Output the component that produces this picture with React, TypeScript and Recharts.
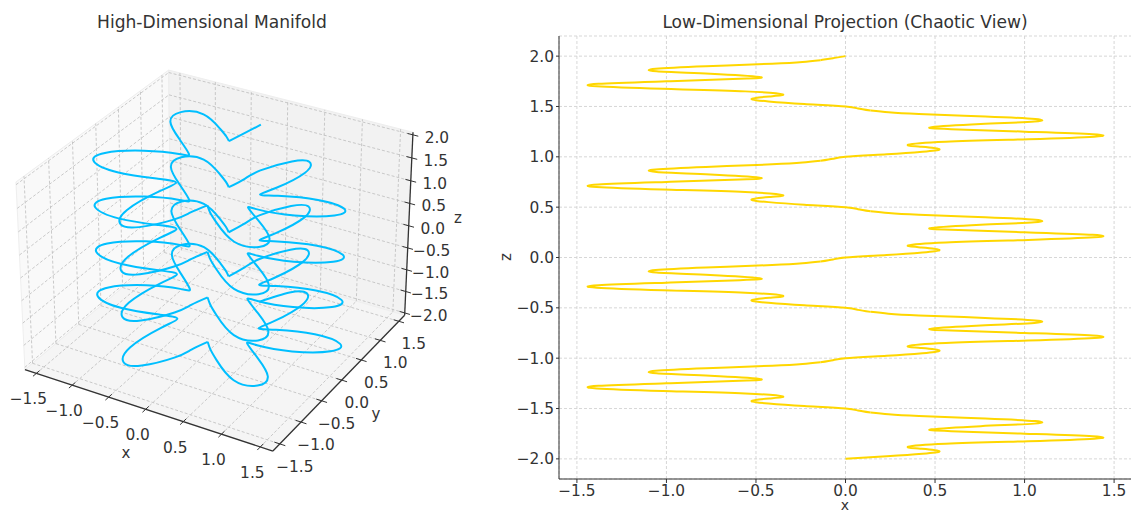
import { LineChart, Line, XAxis, YAxis, CartesianGrid, ReferenceLine, ReferenceArea, ReferenceDot } from "recharts"

const FONT = "'DejaVu Sans', sans-serif"
const INK = "#333333"
const TICK_FONT = 15.4

// curve values: z falls from 2 to -2
const curveX = [
  0, -0.07, -0.14, -0.24, -0.41, -0.78, -1.06, -1.055, -0.755, -0.48, -0.59, -1.0, -1.38, -1.39, -1.02, -0.56, -0.35, -0.425, -0.525, -0.43, -0.23,
  0, 0.07, 0.14, 0.24, 0.41, 0.78, 1.06, 1.055, 0.755, 0.48, 0.59, 1.0, 1.38, 1.39, 1.02, 0.56, 0.35, 0.425, 0.525, 0.43, 0.23,
  0, -0.07, -0.14, -0.24, -0.41, -0.78, -1.06, -1.055, -0.755, -0.48, -0.59, -1.0, -1.38, -1.39, -1.02, -0.56, -0.35, -0.425, -0.525, -0.43, -0.23,
  0, 0.07, 0.14, 0.24, 0.41, 0.78, 1.06, 1.055, 0.755, 0.48, 0.59, 1.0, 1.38, 1.39, 1.02, 0.56, 0.35, 0.425, 0.525, 0.43, 0.23,
  0, -0.07, -0.14, -0.24, -0.41, -0.78, -1.06, -1.055, -0.755, -0.48, -0.59, -1.0, -1.38, -1.39, -1.02, -0.56, -0.35, -0.425, -0.525, -0.43, -0.23,
  0, 0.07, 0.14, 0.24, 0.41, 0.78, 1.06, 1.055, 0.755, 0.48, 0.59, 1.0, 1.38, 1.39, 1.02, 0.56, 0.35, 0.425, 0.525, 0.43, 0.23,
  0, -0.07, -0.14, -0.24, -0.41, -0.78, -1.06, -1.055, -0.755, -0.48, -0.59, -1.0, -1.38, -1.39, -1.02, -0.56, -0.35, -0.425, -0.525, -0.43, -0.23,
  0, 0.07, 0.14, 0.24, 0.41, 0.78, 1.06, 1.055, 0.755, 0.48, 0.59, 1.0, 1.38, 1.39, 1.02, 0.56, 0.35, 0.425, 0.525, 0.43, 0.23,
  0,
]

const curveY = [
  1, 0.745, 0.49, 0.6, 0.75, 1.0, 0.94, 0.69, 0.39, 0.15, 0.11, 0, -0.25, -0.47, -0.53, -0.41, -0.36, -0.62, -1.14, -1.43, -1.36,
  -1, -0.745, -0.49, -0.6, -0.75, -1.0, -0.94, -0.69, -0.39, -0.15, -0.11, 0, 0.25, 0.47, 0.53, 0.41, 0.36, 0.62, 1.14, 1.43, 1.36,
  1, 0.745, 0.49, 0.6, 0.75, 1.0, 0.94, 0.69, 0.39, 0.15, 0.11, 0, -0.25, -0.47, -0.53, -0.41, -0.36, -0.62, -1.14, -1.43, -1.36,
  -1, -0.745, -0.49, -0.6, -0.75, -1.0, -0.94, -0.69, -0.39, -0.15, -0.11, 0, 0.25, 0.47, 0.53, 0.41, 0.36, 0.62, 1.14, 1.43, 1.36,
  1, 0.745, 0.49, 0.6, 0.75, 1.0, 0.94, 0.69, 0.39, 0.15, 0.11, 0, -0.25, -0.47, -0.53, -0.41, -0.36, -0.62, -1.14, -1.43, -1.36,
  -1, -0.745, -0.49, -0.6, -0.75, -1.0, -0.94, -0.69, -0.39, -0.15, -0.11, 0, 0.25, 0.47, 0.53, 0.41, 0.36, 0.62, 1.14, 1.43, 1.36,
  1, 0.745, 0.49, 0.6, 0.75, 1.0, 0.94, 0.69, 0.39, 0.15, 0.11, 0, -0.25, -0.47, -0.53, -0.41, -0.36, -0.62, -1.14, -1.43, -1.36,
  -1, -0.745, -0.49, -0.6, -0.75, -1.0, -0.94, -0.69, -0.39, -0.15, -0.11, 0, 0.25, 0.47, 0.53, 0.41, 0.36, 0.62, 1.14, 1.43, 1.36,
  1,
]

const curveZ = [
  2, 1.98, 1.96, 1.9425, 1.925, 1.9, 1.875, 1.85, 1.825, 1.793, 1.775, 1.75, 1.725, 1.7, 1.675, 1.65, 1.62, 1.6, 1.575, 1.55, 1.525,
  1.5, 1.48, 1.46, 1.4425, 1.425, 1.4, 1.375, 1.35, 1.325, 1.293, 1.275, 1.25, 1.225, 1.2, 1.175, 1.15, 1.12, 1.1, 1.075, 1.05, 1.025,
  1, 0.98, 0.96, 0.9425, 0.925, 0.9, 0.875, 0.85, 0.825, 0.793, 0.775, 0.75, 0.725, 0.7, 0.675, 0.65, 0.62, 0.6, 0.575, 0.55, 0.525,
  0.5, 0.48, 0.46, 0.4425, 0.425, 0.4, 0.375, 0.35, 0.325, 0.293, 0.275, 0.25, 0.225, 0.2, 0.175, 0.15, 0.12, 0.1, 0.075, 0.05, 0.025,
  0, -0.02, -0.04, -0.0575, -0.075, -0.1, -0.125, -0.15, -0.175, -0.207, -0.225, -0.25, -0.275, -0.3, -0.325, -0.35, -0.38, -0.4, -0.425, -0.45, -0.475,
  -0.5, -0.52, -0.54, -0.5575, -0.575, -0.6, -0.625, -0.65, -0.675, -0.707, -0.725, -0.75, -0.775, -0.8, -0.825, -0.85, -0.88, -0.9, -0.925, -0.95, -0.975,
  -1, -1.02, -1.04, -1.0575, -1.075, -1.1, -1.125, -1.15, -1.175, -1.207, -1.225, -1.25, -1.275, -1.3, -1.325, -1.35, -1.38, -1.4, -1.425, -1.45, -1.475,
  -1.5, -1.52, -1.54, -1.5575, -1.575, -1.6, -1.625, -1.65, -1.675, -1.707, -1.725, -1.75, -1.775, -1.8, -1.825, -1.85, -1.88, -1.9, -1.925, -1.95, -1.975,
  -2,
]

// the curve has a real corner at these samples, the spline must not round them
const cornerIndex = [2, 23, 44, 65, 86, 107, 128, 149]

const xyTicks = [-1.5, -1, -0.5, 0, 0.5, 1, 1.5]
const zTicks = [-2, -1.5, -1, -0.5, 0, 0.5, 1, 1.5, 2]

// limits of the 3d box
const XY_LIM = 1.66
const Z_LIM = 2.055

const fmt = (v: number) => v.toFixed(1).replace("-", "\u2212")

// camera at elev 30, azim -60, distance 10
function project(x: number, y: number, z: number) {
  const px = 0.3586 * x
  const py = 0.3586 * y
  const pz = 0.2172 * z
  const u = 0.866 * px + 0.5 * py
  const v = -0.25 * px + 0.433 * py + 0.866 * pz
  const w = 0.433 * px - 0.75 * py + 0.5 * pz
  const f = 10 / (10 - w)
  return { h: u * f, v: v * f }
}

// view plane extent of the left chart
const LEFT_W = 480
const H_MIN = -218.3 / 238.6
const H_MAX = (LEFT_W - 218.3) / 238.6
const V_MAX = 251.4 / 239.6
const V_MIN = (251.4 - 513) / 239.6

const splitAtCorners = <T,>(rows: T[]) => {
  const cuts = [0, ...cornerIndex, rows.length - 1]
  return cuts.slice(1).map((end, i) => rows.slice(cuts[i], end + 1))
}

const curve3d = splitAtCorners(curveX.map((x, i) => project(x, curveY[i], curveZ[i])))
const curve2d = splitAtCorners(curveX.map((x, i) => ({ x, z: curveZ[i] })))

const L = XY_LIM
const Z = Z_LIM
const panes = [
  { fill: "#f9f9f9", pts: [[-L, -L, -Z], [-L, L, -Z], [-L, L, Z], [-L, -L, Z]] },
  { fill: "#f2f2f2", pts: [[-L, L, -Z], [L, L, -Z], [L, L, Z], [-L, L, Z]] },
  { fill: "#f5f5f5", pts: [[-L, -L, -Z], [L, -L, -Z], [L, L, -Z], [-L, L, -Z]] },
]

type P3 = number[]
const gridSegs: P3[][] = [
  ...xyTicks.flatMap((t) => [
    [[t, L, -Z], [t, L, Z]],
    [[t, -L, -Z], [t, L, -Z]],
    [[-L, t, -Z], [-L, t, Z]],
    [[-L, t, -Z], [L, t, -Z]],
  ]),
  ...zTicks.flatMap((t) => [
    [[-L, L, t], [L, L, t]],
    [[-L, -L, t], [-L, L, t]],
  ]),
]

const axisSegs: P3[][] = [
  [[-L, -L, -Z], [L, -L, -Z]],
  [[L, -L, -Z], [L, L, -Z]],
  [[L, L, -Z], [L, L, Z]],
]

const tickSegs: P3[][] = [
  ...xyTicks.map((t) => [[t, -L + 0.07, -Z], [t, -L - 0.07, -Z]]),
  ...xyTicks.map((t) => [[L + 0.07, t, -Z], [L - 0.07, t, -Z]]),
  ...zTicks.map((t) => [[L - 0.07, L, t], [L + 0.07, L, t]]),
]

const tickLabels = [
  ...xyTicks.map((t) => ({ at: project(t, -L, -Z), dx: -8, dy: 26, text: fmt(t) })),
  ...xyTicks.map((t) => ({ at: project(L, t, -Z), dx: 15, dy: 23, text: fmt(t) })),
  ...zTicks.map((t) => ({ at: project(L, L, t), dx: 24, dy: 3, text: fmt(t) })),
]

const seg = (s: P3[]) => {
  const a = project(s[0][0], s[0][1], s[0][2])
  const b = project(s[1][0], s[1][1], s[1][2])
  return [{ x: a.h, y: a.v }, { x: b.h, y: b.v }] as any
}

function paneShape(pts: number[][], fill: string) {
  return (p: any) => {
    const sx = (h: number) => p.x + ((h - H_MIN) / (H_MAX - H_MIN)) * p.width
    const sy = (v: number) => p.y + ((V_MAX - v) / (V_MAX - V_MIN)) * p.height
    const d = pts.map((q) => {
      const o = project(q[0], q[1], q[2])
      return `${sx(o.h)},${sy(o.v)}`
    })
    return <polygon points={d.join(" ")} fill={fill} stroke="#eeeeee" strokeWidth={1} />
  }
}

const titleStyle = (left: number): React.CSSProperties => ({
  position: "absolute",
  left,
  top: 12,
  width: 500,
  marginLeft: -250,
  textAlign: "center",
  fontFamily: FONT,
  fontSize: 17.1,
  color: INK,
})

const axisText = (left: number, top: number, text: string, rotate = 0, size = 15) => (
  <div
    style={{
      position: "absolute",
      left,
      top,
      fontFamily: FONT,
      fontSize: size,
      color: INK,
      lineHeight: "11px",
      transform: `translate(-50%, -50%) rotate(${rotate}deg)`,
    }}
  >
    {text}
  </div>
)

export default function App() {
  return (
    <div style={{ position: "absolute", left: 0, top: 0, width: 1131, height: 513, overflow: "hidden", background: "#fff" }}>
      <LineChart
        width={LEFT_W}
        height={513}
        margin={{ top: 0, right: 0, bottom: 0, left: 0 }}
        style={{ position: "absolute", left: 0, top: 0 }}
      >
        <XAxis hide type="number" dataKey="h" domain={[H_MIN, H_MAX]} allowDataOverflow />
        <YAxis hide type="number" domain={[V_MIN, V_MAX]} allowDataOverflow />
        {panes.map((p, i) => (
          <ReferenceArea key={i} x1={H_MIN} x2={H_MAX} y1={V_MIN} y2={V_MAX} shape={paneShape(p.pts, p.fill)} />
        ))}
        {gridSegs.map((s, i) => (
          <ReferenceLine key={i} segment={seg(s)} stroke="#bdbdbd" strokeWidth={0.8} strokeDasharray="3 2" />
        ))}
        {axisSegs.map((s, i) => (
          <ReferenceLine key={i} segment={seg(s)} stroke={INK} strokeWidth={1.3} />
        ))}
        {tickSegs.map((s, i) => (
          <ReferenceLine key={i} segment={seg(s)} stroke={INK} strokeWidth={1} />
        ))}
        {tickLabels.map((t, i) => (
          <ReferenceDot
            key={i}
            x={t.at.h}
            y={t.at.v}
            r={0}
            shape={(p: any) => (
              <text x={p.cx + t.dx} y={p.cy + t.dy} textAnchor="middle" dominantBaseline="central" fontFamily={FONT} fontSize={TICK_FONT} fill={INK}>
                {t.text}
              </text>
            )}
          />
        ))}
        {curve3d.map((rows, i) => (
          <Line key={i} data={rows} type="natural" dataKey="v" stroke="#00BFFF" strokeWidth={2} dot={false} activeDot={false} isAnimationActive={false} />
        ))}
      </LineChart>

      <LineChart
        width={632}
        height={513}
        margin={{ top: 36, right: 0, bottom: 0, left: 0 }}
        style={{ position: "absolute", left: 500, top: 0 }}
      >
        <CartesianGrid stroke="#d2d2d2" strokeDasharray="3 2" strokeWidth={0.9} />
        <XAxis
          type="number"
          dataKey="x"
          domain={[-1.6, 1.6]}
          ticks={xyTicks}
          tickFormatter={fmt}
          height={34}
          tickSize={4}
          tickMargin={2}
          interval={0}
          allowDataOverflow
          stroke={INK}
          tick={{ fontFamily: FONT, fontSize: TICK_FONT, fill: INK }}
        />
        <YAxis
          type="number"
          domain={[-2.2, 2.2]}
          ticks={zTicks}
          tickFormatter={fmt}
          width={59}
          tickSize={3}
          tickMargin={2}
          interval={0}
          allowDataOverflow
          stroke={INK}
          tick={{ fontFamily: FONT, fontSize: TICK_FONT, fill: INK }}
        />
        {curve2d.map((rows, i) => (
          <Line key={i} data={rows} type="natural" dataKey="z" stroke="#FFD700" strokeWidth={2} dot={false} activeDot={false} isAnimationActive={false} />
        ))}
      </LineChart>

      <div style={titleStyle(212)}>High-Dimensional Manifold</div>
      <div style={titleStyle(845)}>Low-Dimensional Projection (Chaotic View)</div>
      {axisText(126, 453, "x")}
      {axisText(376, 414, "y")}
      {axisText(458, 218, "z")}
      {axisText(845, 505, "x", 0, 14)}
      {axisText(506, 257, "z", -90)}
    </div>
  )
}
